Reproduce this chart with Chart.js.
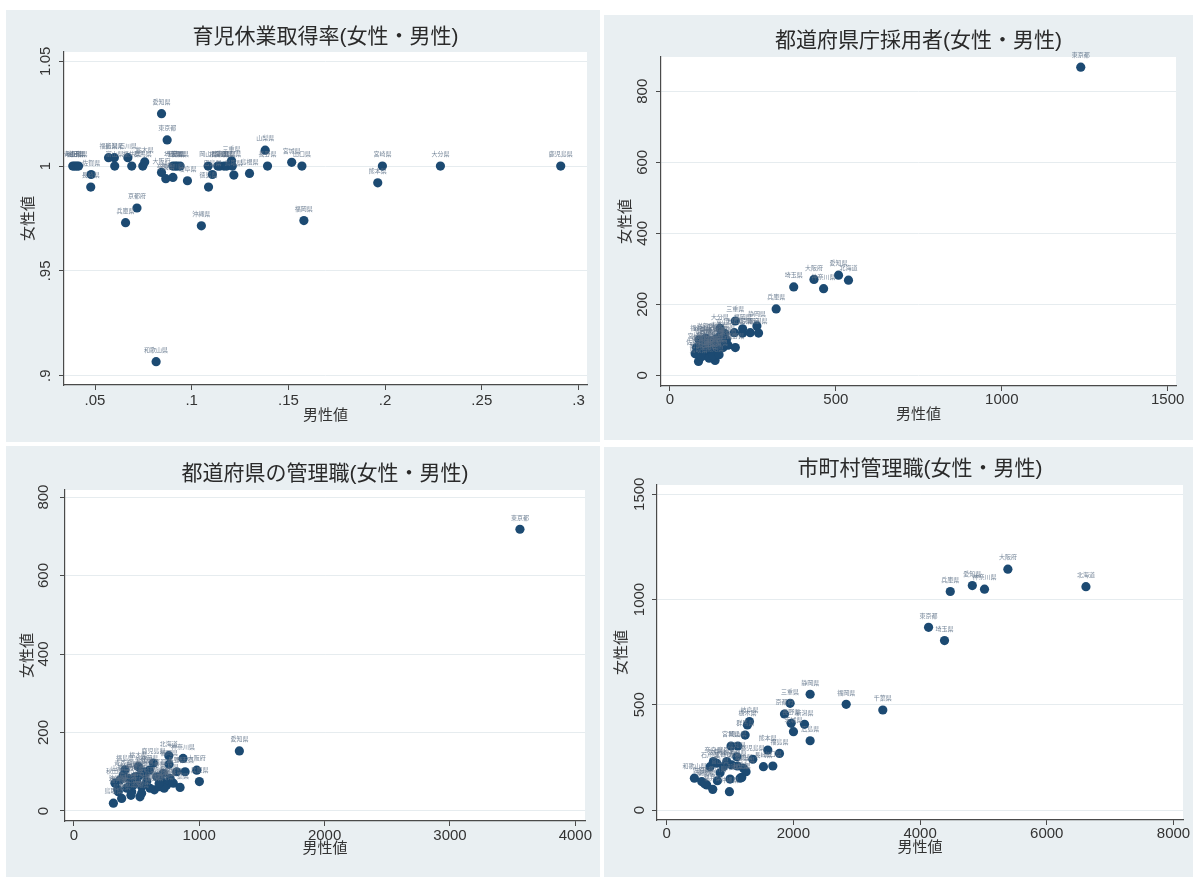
<!DOCTYPE html>
<html lang="ja">
<head>
<meta charset="utf-8">
<title>女性値・男性値 散布図</title>
<script src="https://cdn.jsdelivr.net/npm/chart.js@4.4.1/dist/chart.umd.min.js"></script>
<style>
  html, body { margin: 0; padding: 0; background: #ffffff; }
  body { width: 1197px; height: 877px; position: relative; overflow: hidden; }
  .panel { position: absolute; background: #e9eff2; }
  .panel canvas { display: block; }
</style>
</head>
<body>
<div class="panel" style="left:6px;top:10px;width:594px;height:432px"><canvas id="c1" width="594" height="432"></canvas></div>
<div class="panel" style="left:604px;top:15px;width:589px;height:425px"><canvas id="c2" width="589" height="425"></canvas></div>
<div class="panel" style="left:6px;top:446px;width:594px;height:431px"><canvas id="c3" width="594" height="431"></canvas></div>
<div class="panel" style="left:604px;top:447px;width:589px;height:430px"><canvas id="c4" width="589" height="430"></canvas></div>
<script>
// ---- 育児休業取得率 (男性値, 女性値) ----
const ikujiPref = ['青森県','秋田県','岩手県','山形県','佐賀県','長崎県','福島県','新潟県','富山県','石川県',
  '福井県','群馬県','栃木県','京都府','兵庫県','愛知県','東京都','大阪府','奈良県','神奈川県',
  '埼玉県','千葉県','静岡県','茨城県','岐阜県','和歌山県','沖縄県','岡山県','広島県','徳島県',
  '香川県','愛媛県','高知県','三重県','滋賀県','鳥取県','島根県','山梨県','長野県','宮城県',
  '山口県','福岡県','熊本県','宮崎県','大分県','鹿児島県','北海道'];
const ikujiMale = [0.0385,0.0395,0.0405,0.0415,0.048,0.0478,0.057,0.060,0.0602,0.067,
  0.069,0.0747,0.0757,0.0717,0.0658,0.0844,0.0873,0.0844,0.0866,0.0903,
  0.0903,0.0915,0.0925,0.094,0.0978,0.0816,0.105,0.1085,0.1107,0.1087,
  0.1146,0.1167,0.1181,0.1206,0.121,0.1218,0.1299,0.138,0.1392,0.1517,
  0.157,0.158,0.1962,0.1986,0.2286,0.2908,0.1135];
const ikujiFemale = [1.000,1.000,1.000,1.000,0.996,0.990,1.004,1.004,1.000,1.004,
  1.000,1.000,1.002,0.980,0.973,1.025,1.0125,0.997,0.994,0.9946,
  1.000,1.000,1.000,1.000,0.993,0.9067,0.9715,1.000,0.996,0.990,
  1.000,1.000,1.000,1.0025,1.000,0.9957,0.9965,1.0076,1.000,1.0018,
  1.000,0.974,0.992,1.000,1.000,1.000,1.000];
const ikujiXTicks = [0.05, 0.1, 0.15, 0.2, 0.25, 0.3];
const ikujiXLabels = ['.05', '.1', '.15', '.2', '.25', '.3'];
const ikujiYTicks = [0.9, 0.95, 1, 1.05];
const ikujiYLabels = ['.9', '.95', '1', '1.05'];

// ---- 都道府県庁採用者 ----
const saiyoPref = ['東京都','愛知県','大阪府','北海道','埼玉県','神奈川県','兵庫県','三重県','静岡県','大分県',
  '福岡県','千葉県','広島県','京都府','新潟県','長野県','岐阜県','宮城県','鳥取県','高知県',
  '島根県','佐賀県','福島県','茨城県','栃木県','群馬県','岡山県','熊本県','鹿児島県','山形県',
  '秋田県','愛媛県','長崎県','岩手県','青森県','沖縄県','山口県','富山県','石川県','奈良県',
  '福井県','和歌山県','徳島県','香川県','山梨県','滋賀県','宮崎県'];
const saiyoMale = [1238,508,434,538,373,463,320,197,262,151,
  219,194,219,242,267,197,175,136,86,136,
  111,76,92,100,105,110,115,120,125,128,
  132,138,140,145,150,155,160,165,170,98,
  88,95,118,130,148,108,80];
const saiyoFemale = [868,282,270,268,249,244,187,153,139,132,
  131,120,119,120,119,78,85,70,39,42,
  56,61,72,65,80,90,70,98,85,62,
  75,102,88,68,110,95,78,118,100,95,
  100,52,48,55,58,105,78];
const saiyoXTicks = [0, 500, 1000, 1500];
const saiyoXLabels = ['0', '500', '1000', '1500'];
const saiyoYTicks = [0, 200, 400, 600, 800];
const saiyoYLabels = ['0', '200', '400', '600', '800'];

// ---- 都道府県の管理職 ----
const kanriPref = ['東京都','愛知県','北海道','神奈川県','大阪府','埼玉県','兵庫県','福岡県','福島県','静岡県',
  '新潟県','千葉県','鳥取県','島根県','高知県','徳島県','佐賀県','広島県','京都府','岡山県',
  '山梨県','福井県','香川県','岐阜県','奈良県','長崎県','山形県','秋田県','岩手県','三重県',
  '熊本県','宮城県','茨城県','長野県','滋賀県','群馬県','青森県','栃木県','鹿児島県','大分県',
  '和歌山県','宮崎県','愛媛県','山口県','富山県','石川県','沖縄県'];
const kanriMale = [3558,1320,757,871,980,887,1001,759,408,602,
  567,847,315,381,527,642,687,767,713,474,
  421,354,461,501,541,581,368,328,434,661,
  701,741,793,820,607,488,394,514,634,540,
  455,720,560,680,430,520,350];
const kanriFemale = [718,153,141,134,104,100,75,119,105,104,
  94,60,20,32,36,54,62,83,96,66,
  58,49,49,79,62,75,79,71,83,87,
  75,66,71,100,58,87,92,113,122,45,
  40,58,100,70,60,90,55];
const kanriXTicks = [0, 1000, 2000, 3000, 4000];
const kanriXLabels = ['0', '1000', '2000', '3000', '4000'];
const kanriYTicks = [0, 200, 400, 600, 800];
const kanriYLabels = ['0', '200', '400', '600', '800'];

// ---- 市町村管理職 ----
const shiPref = ['大阪府','北海道','愛知県','神奈川県','兵庫県','東京都','埼玉県','福岡県','千葉県','静岡県',
  '三重県','京都府','長野県','新潟県','茨城県','広島県','岐阜県','栃木県','群馬県','宮城県',
  '岡山県','熊本県','福島県','鹿児島県','長崎県','山口県','愛媛県','大分県','青森県','岩手県',
  '秋田県','山形県','沖縄県','奈良県','滋賀県','石川県','富山県','香川県','和歌山県','佐賀県',
  '徳島県','福井県','山梨県','宮崎県','高知県','鳥取県','島根県'];
const shiMale = [5386,6618,4825,5017,4477,4134,4386,2834,3412,2265,
  1949,1860,1965,2176,2002,2265,1307,1275,1239,1017,
  1123,1597,1781,1360,1528,1676,1212,1117,1028,1254,
  1186,1001,991,738,791,686,844,801,438,554,
  633,728,1160,896,1107,949,600];
const shiFemale = [1144,1061,1066,1049,1038,868,805,502,475,550,
  507,456,412,407,372,329,420,404,356,304,
  304,285,269,241,206,209,198,209,214,182,
  155,147,87,230,222,206,177,139,151,135,
  119,98,151,206,253,230,125];
const shiXTicks = [0, 2000, 4000, 6000, 8000];
const shiXLabels = ['0', '2000', '4000', '6000', '8000'];
const shiYTicks = [0, 500, 1000, 1500];
const shiYLabels = ['0', '500', '1000', '1500'];

// ---- shared drawing style ----
const FONT = '"Liberation Sans", "Noto Sans CJK JP", sans-serif';
const MARKER = '#1c4a72';
const AXIS = '#4a4a4a';
const GRID = '#e6ecef';
const TEXT = '#333333';

function makePanel(id, spec) {
  const pts = spec.xs.map((x, i) => ({ x: x, y: spec.ys[i] }));
  const g = spec.geom;
  const decor = {
    id: 'decor',
    beforeDraw(chart) {
      const a = chart.chartArea, ctx = chart.ctx;
      ctx.save();
      ctx.fillStyle = '#ffffff';
      ctx.fillRect(a.left, a.top, a.right - a.left, a.bottom - a.top);
      ctx.restore();
    },
    afterDatasetsDraw(chart) {
      // marker labels (prefecture names) above each point
      const ctx = chart.ctx, xs = chart.scales.x, ys = chart.scales.y;
      ctx.save();
      ctx.font = '6px "Noto Sans CJK JP", sans-serif';
      ctx.fillStyle = 'rgba(92,112,134,0.85)';
      ctx.textAlign = 'center';
      ctx.textBaseline = 'middle';
      spec.names.forEach((n, i) => {
        ctx.fillText(n, xs.getPixelForValue(spec.xs[i]), ys.getPixelForValue(spec.ys[i]) - 12);
      });
      ctx.restore();
    },
    afterDraw(chart) {
      // vertical tick labels on the y axis
      const ctx = chart.ctx, ys = chart.scales.y, a = chart.chartArea;
      ctx.save();
      ctx.font = '15px ' + FONT;
      ctx.fillStyle = TEXT;
      ctx.textAlign = 'center';
      ctx.textBaseline = 'middle';
      spec.yTicks.forEach((v, i) => {
        ctx.save();
        ctx.translate(a.left - g.yLabOff, ys.getPixelForValue(v));
        ctx.rotate(-Math.PI / 2);
        ctx.fillText(spec.yLabels[i], 0, 0);
        ctx.restore();
      });
      ctx.restore();
    }
  };
  return new Chart(document.getElementById(id), {
    type: 'scatter',
    data: {
      datasets: [{
        data: pts,
        pointRadius: 4.6,
        pointHoverRadius: 4.6,
        pointBackgroundColor: MARKER,
        pointBorderWidth: 0,
        showLine: false
      }]
    },
    plugins: [decor],
    options: {
      responsive: false,
      animation: false,
      events: [],
      layout: { autoPadding: false, padding: { left: g.pl, right: g.pr, top: 0, bottom: g.pb } },
      plugins: {
        legend: { display: false },
        tooltip: { enabled: false },
        title: {
          display: true,
          text: spec.title,
          fullSize: false,
          color: '#2a2a2a',
          font: { family: FONT, size: 21, weight: 'normal', lineHeight: 1.2 },
          padding: { top: g.tTop, bottom: g.tBot }
        }
      },
      scales: {
        x: {
          type: 'linear',
          position: 'bottom',
          min: spec.xMin,
          max: spec.xMax,
          afterBuildTicks(s) { s.ticks = spec.xTicks.map(v => ({ value: v })); },
          afterFit(s) { s.height = g.hx; s.paddingLeft = 0; s.paddingRight = 0; s.paddingTop = 0; s.paddingBottom = 0; },
          grid: { drawOnChartArea: false, drawTicks: true, tickLength: 5, tickColor: AXIS, tickWidth: 1 },
          border: { display: true, color: AXIS, width: 1.2 },
          ticks: {
            autoSkip: false, maxRotation: 0, minRotation: 0,
            padding: g.tickPad, color: TEXT,
            font: { family: FONT, size: 15, lineHeight: 1.2 },
            callback: (v, i) => spec.xLabels[i]
          },
          title: { display: true, text: '男性値', color: TEXT, font: { family: FONT, size: 15, lineHeight: 1.2 }, padding: 0 }
        },
        y: {
          type: 'linear',
          position: 'left',
          min: spec.yMin,
          max: spec.yMax,
          afterBuildTicks(s) { s.ticks = spec.yTicks.map(v => ({ value: v })); },
          afterFit(s) { s.width = g.wy; s.paddingLeft = 0; s.paddingRight = 0; s.paddingTop = 0; s.paddingBottom = 0; },
          grid: { color: GRID, lineWidth: 1, drawTicks: true, tickLength: 5, tickColor: AXIS, tickWidth: 1 },
          border: { display: true, color: AXIS, width: 1.2 },
          ticks: { display: false },
          title: { display: true, text: '女性値', color: TEXT, font: { family: FONT, size: 15, lineHeight: 1.2 }, padding: 0 }
        }
      }
    }
  });
}

makePanel('c1', {
  title: '育児休業取得率(女性・男性)',
  xs: ikujiMale, ys: ikujiFemale, names: ikujiPref,
  xTicks: ikujiXTicks, xLabels: ikujiXLabels, yTicks: ikujiYTicks, yLabels: ikujiYLabels,
  xMin: 0.03397, xMax: 0.3044, yMin: 0.89557, yMax: 1.05443,
  geom: { pl: 14, pr: 13, pb: 17, tTop: 14.4, tBot: 2.4, wy: 44, hx: 40, tickPad: 2, yLabOff: 18 }
});
makePanel('c2', {
  title: '都道府県庁採用者(女性・男性)',
  xs: saiyoMale, ys: saiyoFemale, names: saiyoPref,
  xTicks: saiyoXTicks, xLabels: saiyoXLabels, yTicks: saiyoYTicks, yLabels: saiyoYLabels,
  xMin: -27, xMax: 1525, yMin: -30.1, yMax: 896.6,
  geom: { pl: 13, pr: 17, pb: 16, tTop: 13.4, tBot: 3.4, wy: 44, hx: 38, tickPad: 0, yLabOff: 18.5 }
});
makePanel('c3', {
  title: '都道府県の管理職(女性・男性)',
  xs: kanriMale, ys: kanriFemale, names: kanriPref,
  xTicks: kanriXTicks, xLabels: kanriXLabels, yTicks: kanriYTicks, yLabels: kanriYLabels,
  xMin: -71, xMax: 4077, yMin: -25.5, yMax: 818,
  geom: { pl: 12.5, pr: 15, pb: 19, tTop: 15.4, tBot: 3.4, wy: 46.5, hx: 37, tickPad: 1, yLabOff: 21 }
});
makePanel('c4', {
  title: '市町村管理職(女性・男性)',
  xs: shiMale, ys: shiFemale, names: shiPref,
  xTicks: shiXTicks, xLabels: shiXLabels, yTicks: shiYTicks, yLabels: shiYLabels,
  xMin: -152, xMax: 8150, yMin: -47.5, yMax: 1544,
  geom: { pl: 9, pr: 10, pb: 20, tTop: 9.4, tBot: 3.4, wy: 44, hx: 37, tickPad: 0, yLabOff: 17 }
});
</script>
</body>
</html>
